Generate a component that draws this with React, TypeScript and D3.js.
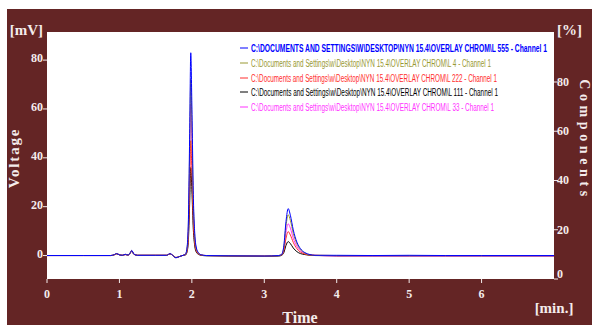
import React, { useRef, useEffect } from "react";
import * as d3 from "d3";

// retention time grid (min) shared by all traces
const timeMin = [
  0, 0.5, 0.88, 0.93, 0.96, 1.0, 1.04, 1.08, 1.12, 1.15, 1.17, 1.2, 1.25, 1.5, 1.65, 1.7, 1.73, 1.78, 1.83,
  1.88, 1.91, 1.93, 1.95, 1.97, 1.985, 2.0, 2.02, 2.04, 2.06, 2.09, 2.13, 2.2,
  2.5, 3.0,
  3.2, 3.24, 3.27, 3.3, 3.33, 3.36, 3.4, 3.45, 3.5, 3.56, 3.63, 3.7,
  4.0, 4.5, 5.0, 5.5, 6.0, 7.0,
];

const l555 = [
  0, 0, 0, 0.4, 0.8, 0.3, 0.1, 0.5, 0.2, 1.2, 2.1, 0.6, 0.1, 0.1, 0.1, 0.8, 0.2, -0.9, -0.4,
  0.1, 0.5, 2.5, 12, 50, 83, 62, 25, 9, 3.5, 1.2, 0.3, 0,
  -0.1, -0.2,
  0, 0.5, 4, 14, 19.2, 16.5, 10.5, 5.5, 2.8, 1.2, 0.4, 0.1,
  0.1, 0, 0.1, 0, 0, 0,
];
const l4 = [
  0, 0, 0, 0.4, 0.8, 0.3, 0.1, 0.5, 0.2, 1.2, 2.0, 0.6, 0.1, 0.1, 0.1, 0.8, 0.2, -0.9, -0.4,
  0.1, 0.4, 2.2, 10.4, 43.4, 72, 53.8, 21.7, 7.8, 3.0, 1.0, 0.3, 0,
  -0.1, -0.2,
  0, 0.4, 3.5, 12.2, 16.7, 14.4, 9.1, 4.8, 2.4, 1.0, 0.3, 0.1,
  0, 0, 0, 0, 0, 0,
];
const l222 = [
  0, 0, 0, 0.3, 0.7, 0.3, 0.1, 0.4, 0.2, 1.1, 1.9, 0.5, 0.1, 0.1, 0.1, 0.7, 0.2, -0.8, -0.4,
  0.1, 0.3, 1.4, 6.8, 28.3, 47, 35.1, 14.2, 5.1, 2.0, 0.7, 0.2, 0,
  -0.1, -0.2,
  0, 0.3, 2.0, 7.1, 9.8, 8.4, 5.4, 2.8, 1.4, 0.6, 0.2, 0.1,
  0, 0, 0, 0, 0, 0,
];
const l111 = [
  0, 0, 0, 0.3, 0.7, 0.3, 0.1, 0.4, 0.2, 1.0, 1.8, 0.5, 0.1, 0.1, 0.1, 0.7, 0.2, -0.8, -0.4,
  0.1, 0.2, 1.1, 5.2, 21.7, 36, 26.9, 10.8, 3.9, 1.5, 0.5, 0.1, -0.1,
  -0.2, -0.3,
  -0.2, 0.1, 1.2, 4.2, 5.7, 4.9, 3.1, 1.6, 0.8, 0.4, 0.1, 0,
  -0.1, -0.1, -0.1, -0.1, -0.1, -0.1,
];
const l33 = [
  0, 0, 0, 0.4, 0.8, 0.3, 0.1, 0.5, 0.2, 1.1, 2.0, 0.6, 0.1, 0.1, 0.1, 0.8, 0.2, -0.9, -0.4,
  0.1, 0.4, 1.9, 9.0, 37.3, 62, 46.3, 18.7, 6.7, 2.6, 0.9, 0.2, 0,
  -0.1, -0.2,
  0, 0.3, 2.7, 9.5, 13, 11.2, 7.1, 3.7, 1.9, 0.8, 0.3, 0.1,
  -0.2, -0.2, -0.2, -0.2, -0.2, -0.2,
];

const legendNames = [
  "C:\\DOCUMENTS AND SETTINGS\\W\\DESKTOP\\NYN 15.4\\OVERLAY CHROM\\L 555 -  Channel 1",
  "C:\\Documents and Settings\\w\\Desktop\\NYN 15.4\\OVERLAY CHROM\\L 4 - Channel 1",
  "C:\\Documents and Settings\\w\\Desktop\\NYN 15.4\\OVERLAY CHROM\\L 222 - Channel 1",
  "C:\\Documents and Settings\\w\\Desktop\\NYN 15.4\\OVERLAY CHROM\\L 111 - Channel 1",
  "C:\\Documents and Settings\\w\\Desktop\\NYN 15.4\\OVERLAY CHROM\\L 33 - Channel 1",
];
const legendColors = ["#0000ff", "#999933", "#ff2e2e", "#000000", "#ff33ff"];
const legendWidths = [296, 240, 246, 247, 243];
const traces = [l555, l4, l222, l111, l33];
// draw order: last one on top
const drawOrder = [4, 3, 2, 1, 0];

const xTicks = [0, 1, 2, 3, 4, 5, 6];
const yTicks = [0, 20, 40, 60, 80];
const y2Ticks = [0, 20, 40, 60, 80];

const App = () => {
  const svgRef = useRef(null);
  const width = 592;
  const height = 325;
  const plot = { left: 47, top: 32, right: 554, bottom: 279 };

  useEffect(() => {
    const svg = d3.select(svgRef.current);
    svg.selectAll("*").remove();

    const bg = "#642525";
    const ink = "#f4ecec";
    const serif = "'Liberation Serif', 'Times New Roman', serif";

    svg.append("rect").attr("x", 0).attr("y", 0).attr("width", width).attr("height", height).attr("fill", "#ffffff");
    svg.append("rect").attr("x", 7).attr("y", 9).attr("width", width - 7).attr("height", height - 9).attr("fill", bg);
    svg.append("rect")
      .attr("x", plot.left).attr("y", plot.top)
      .attr("width", plot.right - plot.left).attr("height", plot.bottom - plot.top)
      .attr("fill", "#ffffff");

    const xScale = d3.scaleLinear().domain([0, 7]).range([plot.left, plot.right]);
    const yScale = d3.scaleLinear().domain([-9.6, 91.5]).range([plot.bottom, plot.top]);
    const y2Scale = d3.scaleLinear().domain([0, 100.3]).range([plot.bottom, plot.top]);

    // left axis
    const gl = svg.append("g");
    yTicks.forEach((v) => {
      const y = yScale(v);
      gl.append("line").attr("x1", plot.left - 4).attr("x2", plot.left).attr("y1", y).attr("y2", y)
        .attr("stroke", ink).attr("stroke-width", 1);
      gl.append("text").attr("x", plot.left - 4).attr("y", y + 2).attr("text-anchor", "end")
        .attr("font-family", serif).attr("font-weight", "bold").attr("font-size", 12).attr("fill", ink)
        .text(v);
    });
    gl.append("text").attr("x", 43).attr("y", 35).attr("text-anchor", "end")
      .attr("font-family", serif).attr("font-weight", "bold").attr("font-size", 15).attr("fill", ink)
      .text("[mV]");

    // right axis
    const gr = svg.append("g");
    y2Ticks.forEach((v) => {
      const y = y2Scale(v);
      gr.append("line").attr("x1", plot.right).attr("x2", plot.right + 4).attr("y1", y).attr("y2", y)
        .attr("stroke", ink).attr("stroke-width", 1);
      gr.append("text").attr("x", plot.right + 3).attr("y", v === 0 ? y - 1 : y + 4).attr("text-anchor", "start")
        .attr("font-family", serif).attr("font-weight", "bold").attr("font-size", 12).attr("fill", ink)
        .text(v);
    });
    gr.append("text").attr("x", 557).attr("y", 35)
      .attr("font-family", serif).attr("font-weight", "bold").attr("font-size", 15).attr("fill", ink)
      .text("[%]");

    // bottom axis
    const gb = svg.append("g");
    xTicks.forEach((v) => {
      const x = xScale(v);
      gb.append("line").attr("x1", x).attr("x2", x).attr("y1", plot.bottom).attr("y2", plot.bottom + 4)
        .attr("stroke", ink).attr("stroke-width", 1);
      gb.append("text").attr("x", x).attr("y", 298).attr("text-anchor", "middle")
        .attr("font-family", serif).attr("font-weight", "bold").attr("font-size", 12).attr("fill", ink)
        .text(v);
    });
    gb.append("text").attr("x", 554).attr("y", 313).attr("text-anchor", "middle")
      .attr("font-family", serif).attr("font-weight", "bold").attr("font-size", 15).attr("fill", ink)
      .text("[min.]");

    // axis titles
    svg.append("text").attr("x", 300).attr("y", 323).attr("text-anchor", "middle")
      .attr("font-family", serif).attr("font-weight", "bold").attr("font-size", 16).attr("fill", ink)
      .text("Time");
    svg.append("text").attr("transform", "translate(19,158) rotate(-90)").attr("text-anchor", "middle")
      .attr("font-family", serif).attr("font-weight", "bold").attr("font-size", 15).attr("fill", ink)
      .attr("letter-spacing", 1.8)
      .text("Voltage");
    svg.append("text").attr("transform", "translate(580,140) rotate(90)").attr("text-anchor", "middle")
      .attr("font-family", serif).attr("font-weight", "bold").attr("font-size", 14).attr("fill", ink)
      .attr("letter-spacing", 4.6)
      .text("Components");

    // traces
    svg.append("clipPath").attr("id", "plotclip").append("rect")
      .attr("x", plot.left).attr("y", plot.top)
      .attr("width", plot.right - plot.left).attr("height", plot.bottom - plot.top);

    const myLine = d3.line()
      .x((d) => xScale(d[0]))
      .y((d) => yScale(d[1]))
      .curve(d3.curveMonotoneX);

    const gTraces = svg.append("g").attr("clip-path", "url(#plotclip)");
    drawOrder.forEach((i) => {
      const pts = timeMin.map((t, j) => [t, traces[i][j]]);
      gTraces.append("path")
        .attr("d", myLine(pts))
        .attr("fill", "none")
        .attr("stroke", legendColors[i])
        .attr("stroke-width", 1);
    });

    // legend
    const gLeg = svg.append("g");
    const rowY = [48, 63, 78, 92, 107];
    legendNames.forEach((name, i) => {
      gLeg.append("line").attr("x1", 240).attr("x2", 248).attr("y1", rowY[i]).attr("y2", rowY[i])
        .attr("stroke", legendColors[i]).attr("stroke-width", 1);
      gLeg.append("text").attr("x", 251).attr("y", rowY[i] + 3.5)
        .attr("font-family", "'Liberation Sans Narrow', 'Arial Narrow', sans-serif")
        .attr("font-weight", i === 0 ? "bold" : "normal")
        .attr("font-size", 10)
        .attr("fill", legendColors[i])
        .attr("textLength", legendWidths[i])
        .attr("lengthAdjust", "spacingAndGlyphs")
        .text(name);
    });
  }, []);

  return (
    <svg ref={svgRef} width={width} height={height}
      style={{ position: "absolute", left: 0, top: 0, display: "block" }} />
  );
};

export default App;
